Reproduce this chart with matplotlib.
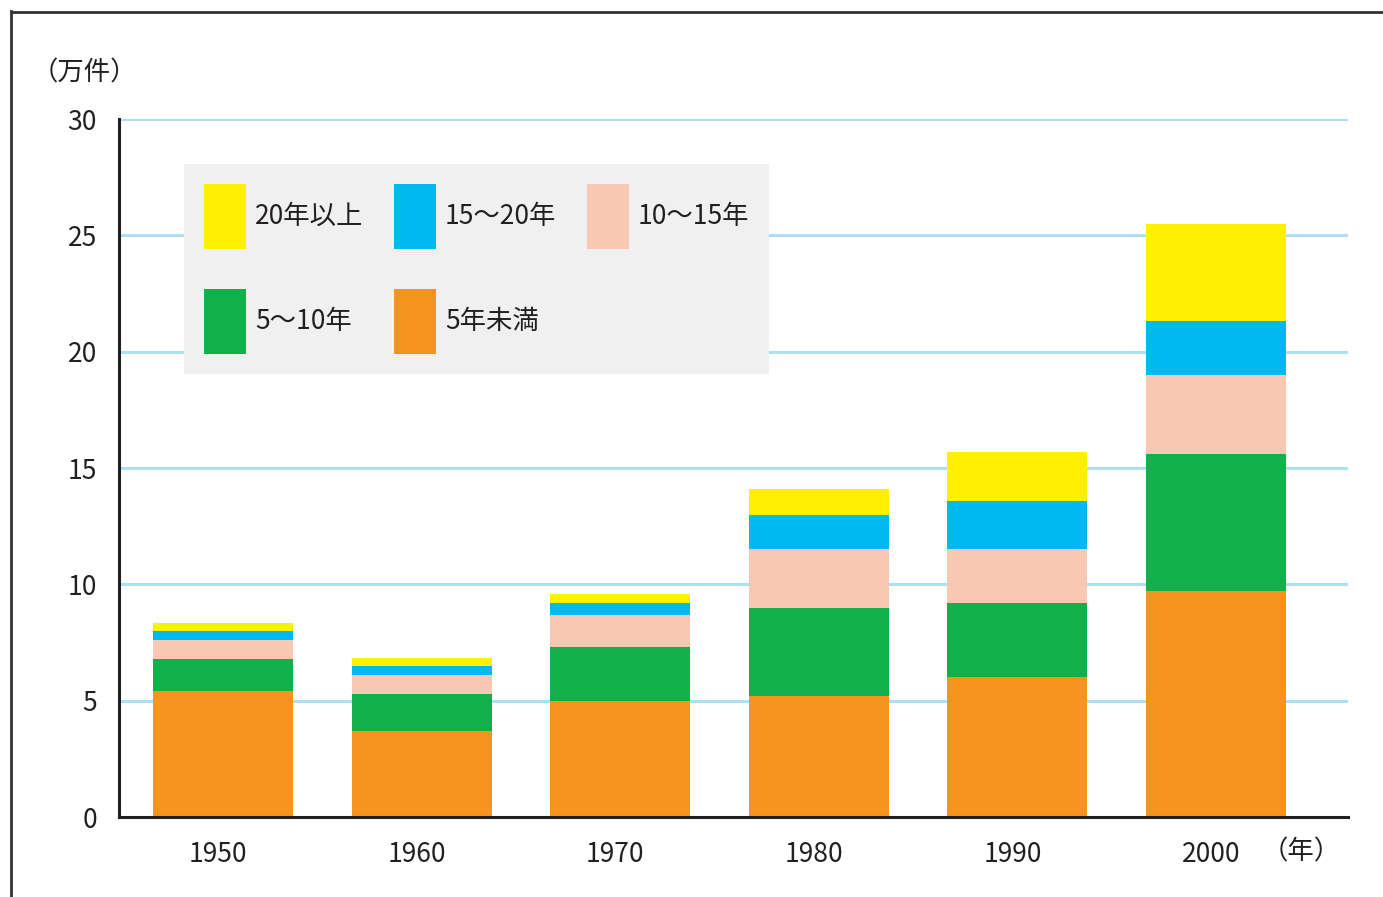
import matplotlib.pyplot as plt
from matplotlib.lines import Line2D
from matplotlib.transforms import ScaledTranslation

plt.rcParams['font.family'] = ['Noto Sans CJK JP', 'DejaVu Sans']

years = ['1950', '1960', '1970', '1980', '1990', '2000']
# values in 万件
under5 = [5.4, 3.7, 5.0, 5.2, 6.0, 9.7]
y5_10 = [1.4, 1.6, 2.3, 3.8, 3.2, 5.9]
y10_15 = [0.8, 0.8, 1.4, 2.5, 2.3, 3.4]
y15_20 = [0.4, 0.4, 0.5, 1.5, 2.1, 2.3]
over20 = [0.35, 0.35, 0.4, 1.1, 2.1, 4.2]

series = [
    ('5年未満', under5, '#f5951f'),
    ('5～10年', y5_10, '#10b04b'),
    ('10～15年', y10_15, '#f9c8b3'),
    ('15～20年', y15_20, '#00b9f1'),
    ('20年以上', over20, '#fff000'),
]

fig = plt.figure(figsize=(13.83, 8.97), dpi=100)
ax = fig.add_axes([119/1383, 1-817/897, (1348-119)/1383, (817-119)/897])

x = list(range(len(years)))
bottom = [0.0] * len(years)
bars = {}
for name, vals, col in series:
    bars[name] = ax.bar(x, vals, width=0.705, bottom=bottom, color=col,
                        linewidth=0, zorder=3)
    bottom = [b + v for b, v in zip(bottom, vals)]

ax.set_xlim(-0.524, 5.665)
ax.set_ylim(0, 30)
ax.set_yticks([0, 5, 10, 15, 20, 25, 30])
ax.set_xticks(x)
ax.set_xticklabels(years)
ax.tick_params(axis='both', length=0, labelsize=19, colors='#231f20')
ax.tick_params(axis='y', pad=16)
ax.tick_params(axis='x', pad=17)
# year labels sit slightly left of the bar centres
shift = ScaledTranslation(-5/100, 0, fig.dpi_scale_trans)
for lab in ax.get_xticklabels():
    lab.set_transform(lab.get_transform() + shift)
ax.yaxis.grid(True, color='#aee0f5', linewidth=2.2, zorder=0)
ax.set_axisbelow(True)
for s in ['top', 'right']:
    ax.spines[s].set_visible(False)
for s in ['left', 'bottom']:
    ax.spines[s].set_linewidth(2.2)
    ax.spines[s].set_color('#231f20')
    ax.spines[s].set_zorder(4)

# legend order so rows read: 20年以上, 15～20年, 10～15年 / 5～10年, 5年未満
order = ['20年以上', '5～10年', '15～20年', '5年未満', '10～15年']
leg = ax.legend([bars[n] for n in order], order, ncol=3,
                loc='upper left', bbox_to_anchor=(184/1383, 1-164/897),
                bbox_transform=fig.transFigure, borderaxespad=0,
                fontsize=19, handlelength=1.6, handleheight=3.4,
                handletextpad=0.34, labelspacing=1.55, columnspacing=1.15,
                borderpad=0.75, frameon=True, fancybox=False)
leg.get_frame().set_facecolor('#f0f0f0')
leg.get_frame().set_edgecolor('none')
leg.get_frame().set_alpha(1)
for t in leg.get_texts():
    t.set_color('#231f20')

fig.text(84/1383, 1-73/897, '（万件）', fontsize=19, ha='center', va='center',
         color='#231f20')
fig.text(1301/1383, 1-852/897, '（年）', fontsize=19, ha='center', va='center',
         color='#231f20')

# outer frame (only top and left edges are visible)
fig.add_artist(Line2D([11/1383, 11/1383], [0, 1-11/897], transform=fig.transFigure,
                      color='#333333', linewidth=2))
fig.add_artist(Line2D([11/1383, 1], [1-12/897, 1-12/897], transform=fig.transFigure,
                      color='#333333', linewidth=2))

fig.savefig('out.png', dpi=100)
